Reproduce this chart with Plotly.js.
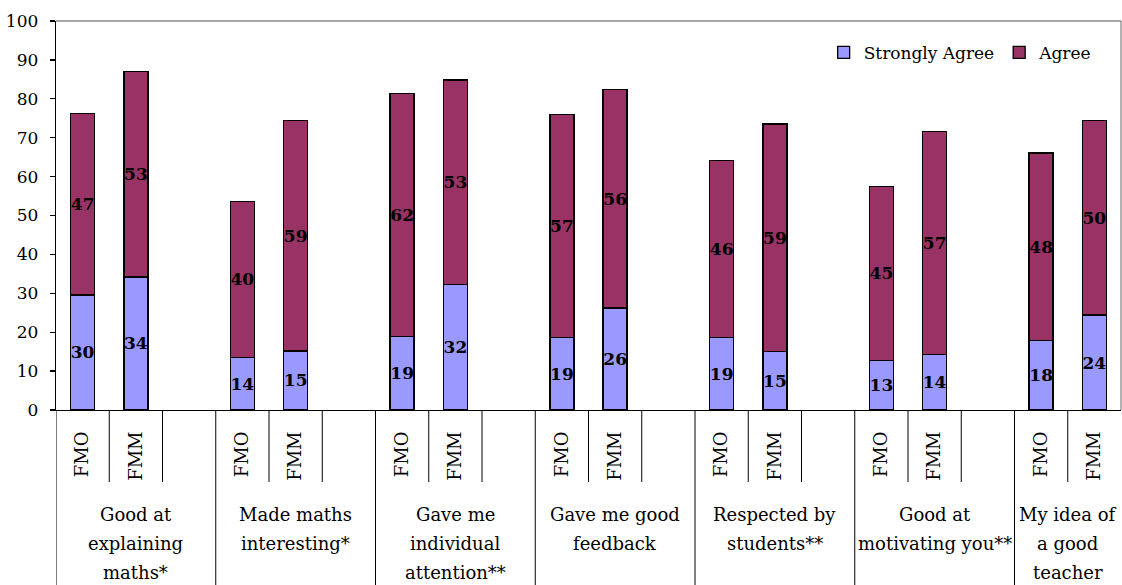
<!DOCTYPE html>
<html><head><meta charset="utf-8">
<script src="https://cdn.plot.ly/plotly-3.0.1.min.js"></script>
<style>html,body{margin:0;padding:0;background:#fff;} #chart{width:1122px;height:585px;}</style>
</head><body><div id="chart"></div>
<script>
// ---- data ----
const groupLabels = [
  "Good at<br>explaining<br>maths*",
  "Made maths<br>interesting*",
  "Gave me<br>individual<br>attention**",
  "Gave me good<br>feedback",
  "Respected by<br>students**",
  "Good at<br>motivating you**",
  "My idea of<br>a good<br>teacher"
];
const subLabels = ["FMO", "FMM"];
const seriesNames = ["Strongly Agree", "Agree"];
// order: group by group, FMO then FMM
const stronglyAgree = [29.6, 34.2, 13.5, 15.2, 18.9, 32.2, 18.6, 26.2, 18.7, 15.0, 12.8, 14.2, 17.9, 24.4];
const agree =         [46.7, 52.9, 40.1, 59.2, 62.4, 52.6, 57.3, 56.2, 45.5, 58.5, 44.6, 57.4, 48.2, 50.0];
const yTicks = [0, 10, 20, 30, 40, 50, 60, 70, 80, 90, 100];

// ---- build category slots ----
const FONT = 'DejaVu Serif';
const slotIds = [], slotText = [], slotGroup = [], barX = [];
groupLabels.forEach((g, gi) => {
  subLabels.forEach((s) => {
    const id = 'g' + gi + '_' + s;
    slotIds.push(id); slotText.push(s); slotGroup.push(gi); barX.push(id);
  });
  if (gi < groupLabels.length - 1) {
    const id = 'g' + gi + '_blank';
    slotIds.push(id); slotText.push(''); slotGroup.push(gi);
  }
});

const labelFont = {family: FONT, size: 17, color: '#000', weight: 'bold'};
function barTrace(name, vals, color) {
  return {
    type: 'bar', name: name, x: barX, y: vals,
    marker: {color: color, line: {color: '#000', width: 1.3}},
    text: vals.map(v => String(Math.round(v))),
    textposition: 'inside', insidetextanchor: 'middle', textangle: 0,
    constraintext: 'none', insidetextfont: labelFont, textfont: labelFont,
    hoverinfo: 'skip', cliponaxis: false
  };
}
const traces = [
  barTrace(seriesNames[0], stronglyAgree, '#9999FF'),
  barTrace(seriesNames[1], agree, '#993366')
];

// ---- axis decorations: dividers below the category axis ----
const PLOT_H = 389;
const shapes = [
  {type: 'line', xref: 'paper', yref: 'paper', x0: 0, x1: 1, y0: 1, y1: 1, line: {color: '#888', width: 1.3}},
  {type: 'line', xref: 'paper', yref: 'paper', x0: 1, x1: 1, y0: 0, y1: 1, line: {color: '#888', width: 1.3}}
];
slotIds.forEach((id, i) => {
  const groupStart = (i === 0) || (slotGroup[i] !== slotGroup[i - 1]);
  shapes.push({
    type: 'line', xref: 'x', yref: 'paper', x0: i - 0.5, x1: i - 0.5,
    y0: 0, y1: groupStart ? -175 / PLOT_H : -72 / PLOT_H,
    line: {color: '#000', width: 1}
  });
});

// ---- group labels ----
const annotations = [];
groupLabels.forEach((g, gi) => {
  const idx = slotIds.map((id, i) => i).filter(i => slotGroup[i] === gi);
  const center = (idx[0] + idx[idx.length - 1]) / 2;
  g.split('<br>').forEach((line, k) => {
    annotations.push({
      xref: 'x', yref: 'paper', x: center, y: 0, yanchor: 'middle', xanchor: 'center',
      yshift: -104 - 29 * k, text: line, showarrow: false,
      font: {family: FONT, size: 18, color: '#000'}
    });
  });
});

const layout = {
  width: 1122, height: 585,
  margin: {l: 56, r: 1, t: 21, b: 175, pad: 0},
  paper_bgcolor: '#fff', plot_bgcolor: '#fff',
  barmode: 'stack', bargap: 0.55,
  font: {family: FONT, size: 18, color: '#000'},
  showlegend: true,
  legend: {orientation: 'h', x: 0.7208, xanchor: 'left', y: 0.918, yanchor: 'middle',
           font: {family: FONT, size: 17, color: '#000'}, bgcolor: 'rgba(0,0,0,0)', traceorder: 'normal'},
  xaxis: {
    type: 'category', categoryorder: 'array', categoryarray: slotIds,
    range: [-0.5, slotIds.length - 0.5],
    tickmode: 'array', tickvals: slotIds, ticktext: slotText,
    tickangle: -90, ticks: '', ticklabelstandoff: 13,
    tickfont: {family: FONT, size: 18, color: '#000'},
    showline: true, linecolor: '#000', linewidth: 1.3, showgrid: false, zeroline: false, fixedrange: true
  },
  yaxis: {
    range: [0, 100], tickmode: 'array', tickvals: yTicks, ticktext: yTicks.map(String),
    ticks: 'outside', ticklen: 5, tickcolor: '#000', tickwidth: 1.3, ticklabelstandoff: 8,
    tickfont: {family: FONT, size: 17, color: '#000'},
    showline: true, linecolor: '#000', linewidth: 1.3, showgrid: false, zeroline: false, fixedrange: true
  },
  shapes: shapes,
  annotations: annotations
};

Plotly.newPlot('chart', traces, layout, {staticPlot: true, displayModeBar: false});
</script>
</body></html>
